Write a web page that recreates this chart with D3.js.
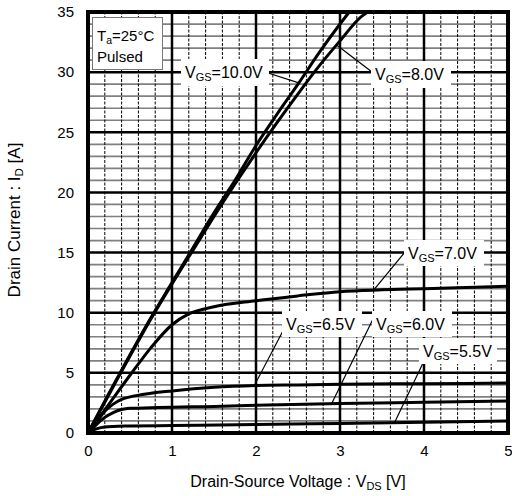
<!DOCTYPE html>
<html><head><meta charset="utf-8">
<script src="https://cdn.jsdelivr.net/npm/d3@7"></script>
<style>body{margin:0;background:#fff}svg{display:block}text{font-family:"Liberation Sans",Arial,sans-serif;fill:#000}</style>
</head><body>
<svg id="c" width="512" height="496"></svg>
<script>
const xTicks = [0,1,2,3,4,5];
const yTicks = [0,5,10,15,20,25,30,35];
const seriesNames = ["10.0V","8.0V","7.0V","6.5V","6.0V","5.5V"];
const vgs10 = [[0,0],[0.25,3.3],[0.5,6.5],[0.75,9.6],[1,12.5],[1.25,15.4],[1.5,18.3],[1.75,21.0],[2,23.9],[2.25,26.5],[2.5,29.0],[2.75,31.6],[3,34.0],[3.11,35]];
const vgs8 = [[0,0],[0.25,3.2],[0.5,6.4],[0.75,9.5],[1,12.4],[1.25,15.2],[1.5,18.0],[1.75,20.7],[2,23.3],[2.25,25.8],[2.5,28.2],[2.75,30.5],[3,32.6],[3.25,34.6],[3.33,35]];
const vgs7 = [[0,0],[0.25,2.4],[0.5,4.8],[0.75,7.1],[1,9.0],[1.2,9.9],[1.5,10.5],[2,11.0],[2.5,11.4],[3,11.75],[3.5,11.9],[4,12.0],[4.5,12.1],[5,12.2]];
const vgs65 = [[0,0],[0.1,0.9],[0.2,1.8],[0.3,2.4],[0.4,2.8],[0.5,3.0],[0.75,3.3],[1,3.5],[1.5,3.8],[2,3.95],[2.5,4.0],[3,4.05],[4,4.1],[5,4.15]];
const vgs6 = [[0,0],[0.1,0.7],[0.2,1.3],[0.3,1.7],[0.4,1.95],[0.5,2.05],[0.75,2.1],[1,2.15],[1.5,2.2],[2,2.3],[3,2.45],[4,2.55],[5,2.65]];
const vgs55 = [[0,0],[0.1,0.35],[0.2,0.5],[0.3,0.55],[0.5,0.58],[1,0.62],[2,0.7],[3,0.8],[4,0.9],[5,1.0]];
const series = [vgs10, vgs8, vgs7, vgs65, vgs6, vgs55];

const svg = d3.select("#c");
const x = d3.scaleLinear().domain([0,5]).range([88,508]);
const y = d3.scaleLinear().domain([0,35]).range([433,12]);

const g = svg.append("g");
g.selectAll(".mh").data(d3.range(1,35).filter(v=>v%5!==0)).enter().append("line")
  .attr("x1",x(0)).attr("x2",x(5)).attr("y1",d=>y(d)).attr("y2",d=>y(d))
  .attr("stroke","#808080").attr("stroke-width",1.7);
g.selectAll(".mv").data(d3.range(1,25).filter(i=>i%5!==0).map(i=>i*0.2)).enter().append("line")
  .attr("y1",y(0)).attr("y2",y(35)).attr("x1",d=>x(d)).attr("x2",d=>x(d))
  .attr("stroke","#000").attr("stroke-width",1).attr("stroke-dasharray","3,1.5");
g.selectAll(".Mh").data(yTicks.slice(1,-1)).enter().append("line")
  .attr("x1",x(0)).attr("x2",x(5)).attr("y1",d=>y(d)).attr("y2",d=>y(d))
  .attr("stroke","#000").attr("stroke-width",2.5);
g.selectAll(".Mv").data(xTicks.slice(1,-1)).enter().append("line")
  .attr("y1",y(0)).attr("y2",y(35)).attr("x1",d=>x(d)).attr("x2",d=>x(d))
  .attr("stroke","#000").attr("stroke-width",2.5);

const line = d3.line().x(d=>x(d[0])).y(d=>y(d[1])).curve(d3.curveMonotoneX);
svg.append("g").selectAll("path").data(series).enter().append("path")
  .attr("d",line).attr("fill","none").attr("stroke","#000").attr("stroke-width",3);

const labels = [
  {t:"10.0V", bx:181, by:59, bw:88, bh:27, lx:268, ly:73, v:2.51, s:0},
  {t:"8.0V", bx:371, by:61, bw:80, bh:27, lx:372, ly:72, v:2.96, s:1},
  {t:"7.0V", bx:404, by:240, bw:80, bh:26, lx:405, ly:252, v:3.4, s:2},
  {t:"6.5V", bx:282, by:311, bw:80, bh:26, lx:285, ly:327, v:1.98, s:3},
  {t:"6.0V", bx:372, by:311, bw:80, bh:26, lx:374, ly:317, v:2.9, s:4},
  {t:"5.5V", bx:419, by:338, bw:78, bh:26, lx:423, ly:363, v:3.65, s:5}
];
function interp(arr,v){for(let i=1;i<arr.length;i++){if(arr[i][0]>=v){const a=arr[i-1],b=arr[i];return a[1]+(b[1]-a[1])*(v-a[0])/(b[0]-a[0]);}}return arr[arr.length-1][1];}
const lg = svg.append("g");
labels.forEach(L=>{
  lg.append("line").attr("x1",L.lx).attr("y1",L.ly).attr("x2",x(L.v)).attr("y2",y(interp(series[L.s],L.v)))
    .attr("stroke","#000").attr("stroke-width",1.2);
  lg.append("rect").attr("x",L.bx).attr("y",L.by).attr("width",L.bw).attr("height",L.bh).attr("fill","#fff");
  const t = lg.append("text").attr("x",L.bx+4).attr("y",L.by+L.bh/2+5.5).attr("font-size",16);
  t.append("tspan").text("V");
  t.append("tspan").attr("font-size",11).attr("dy",3).text("GS");
  t.append("tspan").attr("dy",-3).text("="+L.t);
});

lg.append("rect").attr("x",92.5).attr("y",17.5).attr("width",70).attr("height",52).attr("fill","#fff").attr("stroke","#777").attr("stroke-width",1);
const ta = lg.append("text").attr("x",97).attr("y",41).attr("font-size",15);
ta.append("tspan").text("T");
ta.append("tspan").attr("font-size",10.5).attr("dy",3).text("a");
ta.append("tspan").attr("dy",-3).text("=25°C");
lg.append("text").attr("x",97).attr("y",62).attr("font-size",15).text("Pulsed");

svg.append("rect").attr("x",x(0)).attr("y",y(35)).attr("width",x(5)-x(0)).attr("height",y(0)-y(35))
  .attr("fill","none").attr("stroke","#000").attr("stroke-width",4);

const xa = svg.append("g").attr("transform",`translate(0,${y(0)})`)
  .call(d3.axisBottom(x).tickValues(xTicks).tickSize(0).tickPadding(12).tickFormat(d3.format("d")));
const ya = svg.append("g").attr("transform",`translate(${x(0)},0)`)
  .call(d3.axisLeft(y).tickValues(yTicks).tickSize(0).tickPadding(14).tickFormat(d3.format("d")));
[xa,ya].forEach(a=>{a.select(".domain").remove();a.selectAll("text").attr("font-size",15).attr("font-family","Liberation Sans, Arial, sans-serif").attr("fill","#000");});

const xt = svg.append("text").attr("x",298).attr("y",487).attr("text-anchor","middle").attr("font-size",16);
xt.append("tspan").text("Drain-Source Voltage : V");
xt.append("tspan").attr("font-size",11).attr("dy",3).text("DS");
xt.append("tspan").attr("dy",-3).text(" [V]");
const yt = svg.append("text").attr("transform","translate(20,220) rotate(-90)").attr("text-anchor","middle").attr("font-size",17);
yt.append("tspan").text("Drain Current : I");
yt.append("tspan").attr("font-size",11.5).attr("dy",3).text("D");
yt.append("tspan").attr("dy",-3).text(" [A]");
</script>
</body></html>
